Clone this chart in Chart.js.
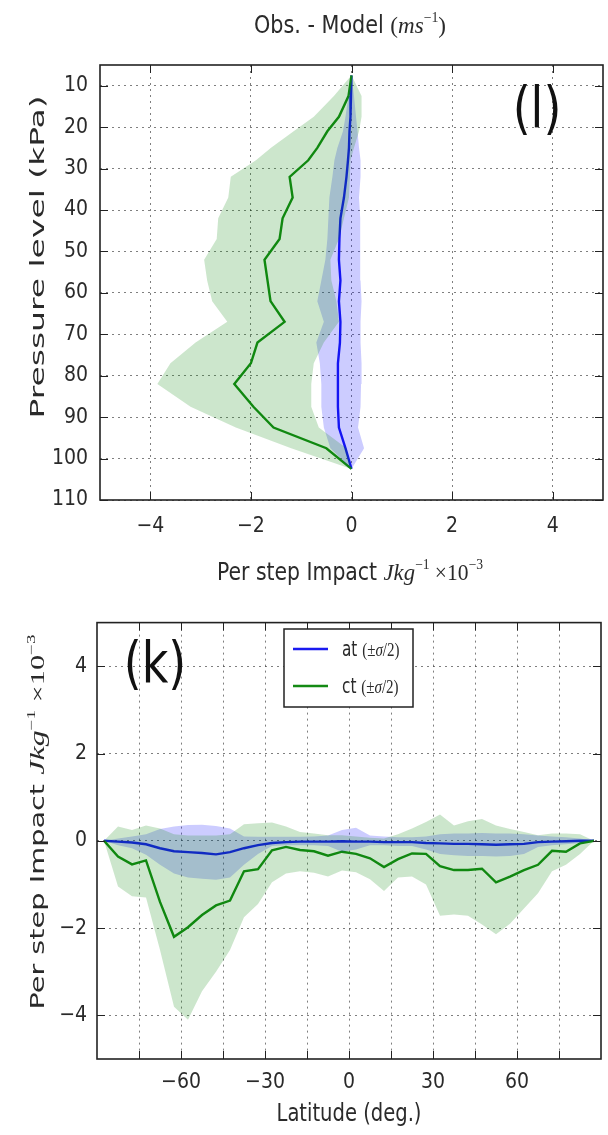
<!DOCTYPE html>
<html>
<head>
<meta charset="utf-8">
<script src="https://cdn.jsdelivr.net/npm/chart.js@4.4.0/dist/chart.umd.min.js"></script>
<style>
    body { margin: 0; background: #fff; width: 608px; height: 1135px; overflow: hidden; position: relative; }
    #grafic-sus { position: absolute; left: 0; top: 0; }
    #grafic-jos { position: absolute; left: 0; top: 600px; }
</style>
</head>
<body>
<canvas id="grafic-sus" width="608" height="600"></canvas>
<canvas id="grafic-jos" width="608" height="535"></canvas>
<script>
// ---- panel (l): pressure profile ----
const pressure = [7.5, 12.5, 17.5, 21, 25, 28, 32, 37, 42, 47, 52, 57, 62, 67, 72, 77, 82, 87.5, 92.5, 97.5, 102.5];
const ctMeanP = [0, -0.06, -0.25, -0.48, -0.68, -0.86, -1.23, -1.17, -1.37, -1.43, -1.73, -1.67, -1.61, -1.33, -1.87, -2.0, -2.33, -1.95, -1.55, -0.5, 0];
const ctLoP = [0, -0.35, -0.75, -1.15, -1.6, -1.9, -2.4, -2.45, -2.65, -2.68, -2.93, -2.87, -2.77, -2.47, -3.1, -3.6, -3.86, -3.2, -2.3, -1.2, 0];
const ctHiP = [0, 0.2, 0.2, 0.15, 0.05, -0.02, -0.03, -0.05, -0.15, -0.25, -0.42, -0.4, -0.3, -0.25, -0.55, -0.75, -0.8, -0.8, -0.65, -0.1, 0];
const atMeanP = [0, -0.01, -0.02, -0.04, -0.05, -0.07, -0.1, -0.15, -0.22, -0.24, -0.25, -0.22, -0.25, -0.22, -0.23, -0.27, -0.27, -0.27, -0.25, -0.12, 0];
const atLoP = [0, -0.06, -0.12, -0.17, -0.28, -0.34, -0.38, -0.44, -0.46, -0.48, -0.52, -0.6, -0.68, -0.55, -0.7, -0.63, -0.6, -0.6, -0.55, -0.42, 0];
const atHiP = [0, 0.05, 0.09, 0.12, 0.15, 0.18, 0.18, 0.15, 0.17, 0.18, 0.17, 0.18, 0.2, 0.18, 0.18, 0.2, 0.19, 0.18, 0.13, 0.25, 0];
const topXTicks = [-4, -2, 0, 2, 4];
const topYTicks = [10, 20, 30, 40, 50, 60, 70, 80, 90, 100, 110];

// ---- panel (k): latitude profile ----
const latitude = [-87.5, -82.5, -77.5, -72.5, -67.5, -62.5, -57.5, -52.5, -47.5, -42.5, -37.5, -32.5, -27.5, -22.5, -17.5, -12.5, -7.5, -2.5,
    2.5, 7.5, 12.5, 17.5, 22.5, 27.5, 32.5, 37.5, 42.5, 47.5, 52.5, 57.5, 62.5, 67.5, 72.5, 77.5, 82.5, 87.5];
const ctMeanL = [0, -0.36, -0.54, -0.45, -1.4, -2.2, -1.98, -1.7, -1.48, -1.37, -0.7, -0.65, -0.22, -0.14, -0.21, -0.24, -0.34, -0.25,
    -0.3, -0.4, -0.6, -0.42, -0.29, -0.3, -0.58, -0.67, -0.67, -0.64, -0.95, -0.82, -0.67, -0.55, -0.23, -0.25, -0.06, 0];
const ctLoL = [0, -1.05, -1.27, -1.3, -2.5, -3.8, -4.1, -3.45, -3.0, -2.5, -1.75, -1.45, -0.95, -0.75, -0.7, -0.73, -0.82, -0.68,
    -0.72, -0.88, -1.15, -0.84, -0.82, -1.0, -1.72, -1.69, -1.72, -1.92, -2.14, -1.9, -1.55, -1.2, -0.7, -0.55, -0.3, 0];
const ctHiL = [0, 0.33, 0.25, 0.35, 0.28, 0.15, 0.12, 0.12, 0.12, 0.15, 0.38, 0.4, 0.42, 0.33, 0.2, 0.17, 0.13, 0.13,
    0.1, 0.07, 0.05, 0.15, 0.28, 0.43, 0.6, 0.35, 0.45, 0.5, 0.35, 0.27, 0.2, 0.13, 0.17, 0.17, 0.15, 0];
const atMeanL = [0, -0.02, -0.04, -0.08, -0.17, -0.24, -0.26, -0.28, -0.31, -0.26, -0.17, -0.1, -0.05, -0.03, -0.02, -0.02, -0.02, -0.01,
    -0.02, -0.02, -0.03, -0.03, -0.03, -0.05, -0.06, -0.07, -0.07, -0.08, -0.09, -0.08, -0.07, -0.03, -0.02, -0.01, 0, 0];
const atLoL = [0, -0.1, -0.17, -0.32, -0.55, -0.75, -0.84, -0.87, -0.89, -0.84, -0.55, -0.3, -0.12, -0.1, -0.1, -0.1, -0.12, -0.25,
    -0.2, -0.1, -0.1, -0.12, -0.12, -0.2, -0.3, -0.33, -0.35, -0.35, -0.36, -0.35, -0.3, -0.14, -0.1, -0.08, -0.05, 0];
const atHiL = [0, 0.05, 0.1, 0.15, 0.27, 0.33, 0.36, 0.37, 0.34, 0.28, 0.1, 0.09, 0.09, 0.09, 0.09, 0.1, 0.12, 0.25,
    0.3, 0.12, 0.1, 0.08, 0.08, 0.1, 0.15, 0.17, 0.17, 0.18, 0.17, 0.17, 0.15, 0.12, 0.1, 0.08, 0.05, 0];
const botXTicks = [-75, -60, -45, -30, -15, 0, 15, 30, 45, 60, 75];
const botXLabels = [-60, -30, 0, 30, 60];
const botYTicks = [-4, -2, 0, 2, 4];

const SANS = "'DejaVu Sans Condensed', 'DejaVu Sans', sans-serif";
const SERIF = "'Liberation Serif', 'DejaVu Serif', serif";
const TXT = '#2a2a2a';
const VERDE = '#148a14';
const ALBASTRU = '#1a1af0';
const VERDE_BANDA = 'rgba(0, 128, 0, 0.2)';
const ALBASTRU_BANDA = 'rgba(0, 0, 255, 0.2)';

const minus = v => (v < 0 ? '\u2212' + Math.abs(v) : '' + v);

// text cu fonturi amestecate, optional intins pe lungime
function scrieText(ctx, parts, x, y, o) {
    o = o || {};
    ctx.save();
    ctx.translate(x, y);
    if (o.rot) ctx.rotate(o.rot);
    let w = 0;
    parts.forEach(p => { ctx.font = p.f; p.w = ctx.measureText(p.t).width; w += p.w; });
    const sx = o.len ? o.len / w : (o.sx || 1);
    ctx.scale(sx, o.sy || 1);
    let cx = o.align === 'left' ? 0 : -w / 2;
    ctx.fillStyle = o.color || TXT;
    ctx.textBaseline = 'alphabetic';
    parts.forEach(p => { ctx.font = p.f; ctx.fillText(p.t, cx, p.dy || 0); cx += p.w; });
    ctx.restore();
}

function impactParts(size) {
    return [
        { t: 'Per step Impact ', f: size + 'px ' + SANS },
        { t: 'Jkg', f: 'italic ' + size + 'px ' + SERIF },
        { t: '\u22121', f: Math.round(size * 0.62) + 'px ' + SERIF, dy: -size * 0.45 },
        { t: ' \u00d710', f: (size - 1) + 'px ' + SERIF },
        { t: '\u22123', f: Math.round(size * 0.62) + 'px ' + SERIF, dy: -size * 0.45 }
    ];
}

// rama si tick-uri spre interior, ca in matplotlib
const ramaPlugin = {
    id: 'rama',
    afterDatasetsDraw(chart) {
        const { ctx, chartArea: a, scales } = chart;
        const L = 8;
        ctx.save();
        ctx.strokeStyle = '#222';
        ctx.lineWidth = 1;
        ctx.beginPath();
        scales.x.ticks.forEach(t => {
            const px = Math.round(scales.x.getPixelForValue(t.value)) + 0.5;
            ctx.moveTo(px, a.bottom); ctx.lineTo(px, a.bottom - L);
            ctx.moveTo(px, a.top); ctx.lineTo(px, a.top + L);
        });
        scales.y.ticks.forEach(t => {
            const py = Math.round(scales.y.getPixelForValue(t.value)) + 0.5;
            ctx.moveTo(a.left, py); ctx.lineTo(a.left + L, py);
            ctx.moveTo(a.right, py); ctx.lineTo(a.right - L, py);
        });
        ctx.stroke();
        ctx.lineWidth = 1.6;
        ctx.strokeRect(a.left, a.top, a.right - a.left, a.bottom - a.top);
        ctx.restore();
    }
};

function axa(min, max, ticks, extra, pad, labels) {
    return Object.assign({
        type: 'linear',
        min: min,
        max: max,
        afterBuildTicks: s => { s.ticks = ticks.map(v => ({ value: v })); },
        ticks: {
            font: { family: SANS, size: 21 },
            color: TXT,
            padding: pad,
            autoSkip: false,
            maxRotation: 0,
            callback: v => (!labels || labels.includes(v) ? minus(v) : '')
        },
        grid: { color: 'rgba(0,0,0,0.5)', lineWidth: 1, drawTicks: false },
        border: { display: false, dash: [2, 4] }
    }, extra);
}

function banda(data, culoare, tinta) {
    return {
        data: data, borderWidth: 0, borderColor: 'rgba(0,0,0,0)', pointRadius: 0,
        backgroundColor: culoare, fill: tinta
    };
}

function linie(data, culoare) {
    return { data: data, borderWidth: 2.4, borderColor: culoare, pointRadius: 0, fill: false };
}

const optiuniComune = {
    responsive: false,
    animation: false,
    events: [],
    elements: { line: { tension: 0 } },
    plugins: { legend: { display: false }, tooltip: { enabled: false } }
};

// ---- grafic (l) ----
const pSus = (vals) => vals.map((v, i) => ({ x: v, y: pressure[i] }));

new Chart(document.getElementById('grafic-sus'), {
    type: 'line',
    data: {
        datasets: [
            banda(pSus(ctLoP), VERDE_BANDA, 1),
            banda(pSus(ctHiP), 'rgba(0,0,0,0)', false),
            banda(pSus(atLoP), ALBASTRU_BANDA, 3),
            banda(pSus(atHiP), 'rgba(0,0,0,0)', false),
            linie(pSus(ctMeanP), VERDE),
            linie(pSus(atMeanP), ALBASTRU)
        ]
    },
    options: Object.assign({}, optiuniComune, {
        indexAxis: 'y',
        layout: { padding: { top: 65, right: 5, left: 0, bottom: 0 } },
        scales: {
            x: axa(-5, 5, topXTicks, { afterFit: s => { s.height = 100; } }, 14),
            y: axa(5, 110, topYTicks, { reverse: true, afterFit: s => { s.width = 100; } }, 12)
        }
    }),
    plugins: [ramaPlugin, {
        id: 'texteSus',
        afterDraw(chart) {
            const ctx = chart.ctx;
            scrieText(ctx, [
                { t: 'Obs. - Model ', f: '20px ' + SANS },
                { t: '(', f: '20px ' + SERIF },
                { t: 'ms', f: 'italic 20px ' + SERIF },
                { t: '\u22121', f: '12px ' + SERIF, dy: -9 },
                { t: ')', f: '20px ' + SERIF }
            ], 350, 33, { len: 192, sy: 1.2 });
            scrieText(ctx, impactParts(20), 350, 580, { len: 266, sy: 1.2 });
            scrieText(ctx, [{ t: 'Pressure level (kPa)', f: '20px ' + SANS }], 44, 257,
                { rot: -Math.PI / 2, len: 323 });
            scrieText(ctx, [{ t: '(l)', f: '46px DejaVu Sans' }], 537, 127, { sy: 1.25, color: '#111' });
        }
    }]
});

// ---- grafic (k) ----
const pJos = (vals) => vals.map((v, i) => ({ x: latitude[i], y: v }));

new Chart(document.getElementById('grafic-jos'), {
    type: 'line',
    data: {
        datasets: [
            banda(pJos(ctLoL), VERDE_BANDA, 1),
            banda(pJos(ctHiL), 'rgba(0,0,0,0)', false),
            banda(pJos(atLoL), ALBASTRU_BANDA, 3),
            banda(pJos(atHiL), 'rgba(0,0,0,0)', false),
            linie(pJos(ctMeanL), VERDE),
            linie(pJos(atMeanL), ALBASTRU)
        ]
    },
    options: Object.assign({}, optiuniComune, {
        layout: { padding: { top: 20, right: 7, left: 0, bottom: 0 } },
        scales: {
            x: axa(-90, 90, botXTicks, { afterFit: s => { s.height = 76; } }, 11, botXLabels),
            y: axa(-5, 5, botYTicks, { afterFit: s => { s.width = 97; } }, 10)
        }
    }),
    plugins: [ramaPlugin, {
        id: 'texteJos',
        afterDraw(chart) {
            const ctx = chart.ctx;
            scrieText(ctx, [{ t: 'Latitude (deg.)', f: '20px ' + SANS }], 349, 521, { len: 145, sy: 1.2 });
            scrieText(ctx, impactParts(20), 44, 222, { rot: -Math.PI / 2, len: 375 });
            scrieText(ctx, [{ t: '(k)', f: '46px DejaVu Sans' }], 155, 82, { sy: 1.25, color: '#111' });

            // legenda in casuta
            ctx.save();
            ctx.fillStyle = '#fff';
            ctx.fillRect(284, 29, 129, 78);
            ctx.strokeStyle = '#222';
            ctx.lineWidth = 1.5;
            ctx.strokeRect(284, 29, 129, 78);
            ctx.lineWidth = 2.4;
            [[ALBASTRU, 49, 'at'], [VERDE, 86, 'ct']].forEach(([c, y, nume]) => {
                ctx.strokeStyle = c;
                ctx.beginPath();
                ctx.moveTo(293, y); ctx.lineTo(328, y);
                ctx.stroke();
                scrieText(ctx, [
                    { t: nume + ' ', f: '17px ' + SANS },
                    { t: '(\u00b1', f: '15px ' + SERIF },
                    { t: '\u03c3', f: 'italic 15px ' + SERIF },
                    { t: '/2)', f: '15px ' + SERIF }
                ], 342, y + 7, { align: 'left', sy: 1.2 });
            });
            ctx.restore();
        }
    }]
});
</script>
</body>
</html>
